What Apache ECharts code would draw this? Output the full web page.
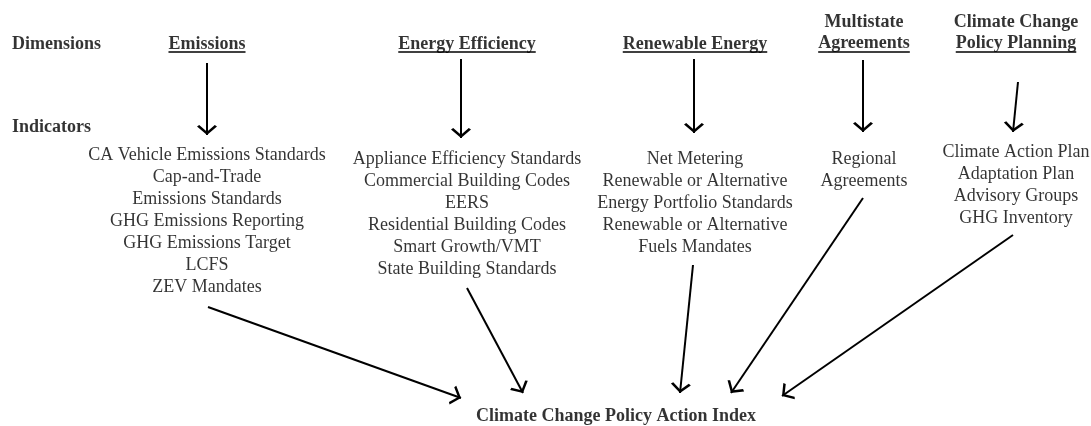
<!DOCTYPE html>
<html>
<head>
<meta charset="utf-8">
<title>Climate Change Policy Action Index</title>
<script src="https://cdn.jsdelivr.net/npm/echarts@6/dist/echarts.min.js"></script>
<style>
  html, body { margin: 0; padding: 0; background: #fff; }
  #main { width: 1091px; height: 426px; }
</style>
</head>
<body>
<div id="main"></div>
<script>
// dimensions of the index and the indicators under each one
var dimensions = ['Emissions', 'Energy Efficiency', 'Renewable Energy', 'Multistate\nAgreements', 'Climate Change\nPolicy Planning'];
var indicators = [
  ['CA Vehicle Emissions Standards', 'Cap-and-Trade', 'Emissions Standards', 'GHG Emissions Reporting', 'GHG Emissions Target', 'LCFS', 'ZEV Mandates'],
  ['Appliance Efficiency Standards', 'Commercial Building Codes', 'EERS', 'Residential Building Codes', 'Smart Growth/VMT', 'State Building Standards'],
  ['Net Metering', 'Renewable or Alternative', 'Energy Portfolio Standards', 'Renewable or Alternative', 'Fuels Mandates'],
  ['Regional', 'Agreements'],
  ['Climate Action Plan', 'Adaptation Plan', 'Advisory Groups', 'GHG Inventory']
];
var rowLabels = ['Dimensions', 'Indicators'];
var indexName = 'Climate Change Policy Action Index';

// layout, in the pixel units of the hidden 1091 x 426 axes
var colX = [207, 467, 695, 864, 1016];
var headY = [44, 44, 44, 33, 33];
var listY = [221, 214, 203, 170, 185];
var rowY = [44, 127];
var downFrom = [[207, 63], [461, 59], [694, 59], [863, 60], [1018, 82]];
var downTo = [[207, 135], [461, 138], [694, 133], [863, 132], [1013, 132]];
var joinFrom = [[208, 307], [467, 288], [693, 265], [863, 198], [1013, 235]];
var joinTo = [[461, 398], [523, 393], [680, 393], [731, 393], [782, 396]];
var indexPos = [616, 416];

var serif = '"Liberation Serif", "Times New Roman", serif';
// open V arrow head, tip sits in the middle of the box so it lands on the end point
var chevron = 'path://M0,-10 L0,-10 M0,0 L7.2,8.6 L5.6,10 L0,3.2 L-5.6,10 L-7.2,8.6 Z';

// underline width from the real text width
var ctx = document.createElement('canvas').getContext('2d');
ctx.font = 'bold 18px ' + serif;
var underlines = dimensions.map(function (d, i) {
  var lines = d.split('\n');
  var w = ctx.measureText(lines[lines.length - 1]).width;
  var y = headY[i] + (lines.length - 1) * 10.5 + 8;
  return { coords: [[colX[i] - w / 2, y], [colX[i] + w / 2, y]] };
});

var texts = [];
rowLabels.forEach(function (t, i) {
  texts.push({ value: [12, rowY[i]], label: { formatter: t, align: 'left', fontWeight: 'bold' } });
});
dimensions.forEach(function (t, i) {
  texts.push({ value: [colX[i], headY[i]], label: { formatter: t, fontWeight: 'bold', lineHeight: 21 } });
});
indicators.forEach(function (list, i) {
  texts.push({ value: [colX[i], listY[i]], label: { formatter: list.join('\n') } });
});
texts.push({ value: indexPos, label: { formatter: indexName, fontWeight: 'bold' } });

var arrows = [];
for (var i = 0; i < dimensions.length; i++) {
  arrows.push({ coords: [downFrom[i], downTo[i]] });
  arrows.push({ coords: [joinFrom[i], joinTo[i]] });
}

var chart = echarts.init(document.getElementById('main'));
var option = {
  animation: false,
  backgroundColor: '#fff',
  grid: { left: 0, right: 0, top: 0, bottom: 0 },
  xAxis: { type: 'value', min: 0, max: 1091, show: false },
  yAxis: { type: 'value', min: 0, max: 426, inverse: true, show: false },
  series: [
    {
      type: 'lines',
      coordinateSystem: 'cartesian2d',
      silent: true,
      symbol: ['none', chevron],
      symbolSize: [14.4, 20],
      lineStyle: { color: '#000', width: 2, opacity: 1, curveness: 0 },
      data: arrows
    },
    {
      type: 'lines',
      coordinateSystem: 'cartesian2d',
      silent: true,
      symbol: 'none',
      lineStyle: { color: '#000', width: 1.6, opacity: 1 },
      data: underlines
    },
    {
      type: 'scatter',
      silent: true,
      symbolSize: 0,
      label: {
        show: true,
        position: 'inside',
        align: 'center',
        verticalAlign: 'middle',
        color: '#000',
        fontFamily: serif,
        fontSize: 18,
        lineHeight: 22
      },
      data: texts
    }
  ]
};
chart.setOption(option);
</script>
</body>
</html>
